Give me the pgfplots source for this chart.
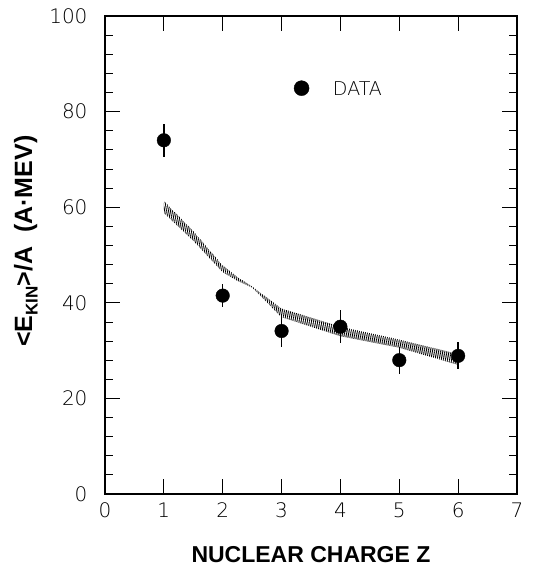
\documentclass[border=0pt]{standalone}
\usepackage{fontspec}
\setmainfont{Liberation Sans}
\newfontfamily\thinfont{DejaVu Sans}[UprightFont=* ExtraLight]
\usepackage{pgfplots}
\pgfplotsset{compat=1.18}
\usepgfplotslibrary{fillbetween}
\usetikzlibrary{patterns.meta}
\begin{document}
\begin{tikzpicture}
\begin{axis}[
  at={(0,0)}, anchor=south west,
  scale only axis, width=412pt, height=478pt,
  xmin=0, xmax=7, ymin=0, ymax=100,
  xtick={0,1,2,3,4,5,6,7}, ytick={0,20,40,60,80,100},
  minor y tick num=4,
  tick align=inside, tick pos=both,
  major tick length=15pt, minor tick length=8pt,
  every tick/.style={line width=0.8pt, black},
  axis line style={line width=1.8pt},
  /pgf/number format/assume math mode=true,
  ticklabel style={font=\thinfont\fontsize{20}{22}\selectfont},
  yticklabel style={xshift=-14pt},
  xticklabel style={yshift=-5pt},
  every axis x label/.style={at={(axis description cs:0.5,-0.144)}, anchor=base, font=\fontsize{23}{25}\selectfont\bfseries},
  every axis y label/.style={at={(axis description cs:-0.177,0.529)}, rotate=90, anchor=base, font=\fontsize{25}{27}\selectfont\bfseries},
  xlabel={NUCLEAR CHARGE Z},
  ylabel={<E\raisebox{-5.5pt}{\fontsize{17}{17}\selectfont KIN}>/A\ \ (A·MEV)},
]
% theory band
\addplot[name path=up, draw=none] coordinates {
 (1.0,61.3) (1.5,55.0) (2.0,47.8) (2.25,45.4) (2.5,43.4) (3.0,38.8) (4.0,35.0) (5.0,32.3) (6.0,29.3)};
\addplot[name path=lo, draw=none] coordinates {
 (1.0,58.8) (1.5,53.0) (2.0,46.4) (2.25,44.6) (2.5,43.2) (3.0,37.0) (4.0,33.0) (5.0,30.6) (6.0,27.0)};
\addplot[pattern={Lines[angle=100, distance=1.9pt, line width=0.9pt]}, pattern color=black, draw=none]
  fill between[of=up and lo];
% data
\addplot[only marks, mark=*, mark size=6.8pt, black,
  error bars/.cd, y dir=both, y explicit, error mark=none,
  error bar style={line width=1.3pt, black}]
  coordinates {
  (1,74.0) +- (0,3.5)
  (2,41.5) +- (0,2.4)
  (3,34.1) +- (0,3.3)
  (4,35.0) +- (0,3.5)
  (5,28.0) +- (0,2.8)
  (6,28.9) +- (0,2.8)
  };
% legend
\addplot[only marks, mark=*, mark size=7.5pt, black] coordinates {(3.34,84.9)};
\node[anchor=west, inner sep=0pt, font=\thinfont\fontsize{19}{21}\selectfont] at (axis cs:3.87,84.9) {DATA};
\end{axis}
\pgfresetboundingbox
\path (-105pt,-74pt) rectangle (432pt,494pt);
\end{tikzpicture}
\end{document}
